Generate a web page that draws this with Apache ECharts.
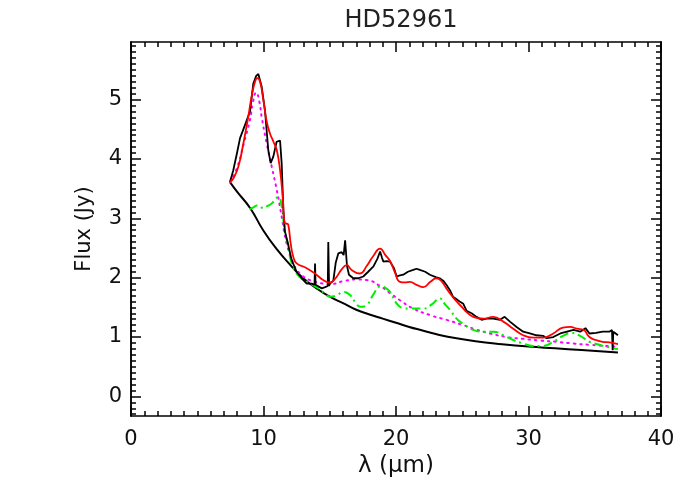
<!DOCTYPE html>
<html>
<head>
<meta charset="utf-8">
<script src="https://cdn.jsdelivr.net/npm/echarts@6/dist/echarts.min.js"></script>
<style>
  body { margin: 0; background: #fff; }
  #chart { width: 700px; height: 500px; }
</style>
</head>
<body>
<div id="chart"></div>
<script>
// observed spectrum [wavelength (um), flux (Jy)]
const observed = [
  [7.47, 3.61], [7.72, 3.81], [8.0, 4.10], [8.23, 4.35], [8.6, 4.57], [8.98, 4.80],
  [9.23, 5.27], [9.45, 5.40], [9.61, 5.43], [9.86, 5.22], [10.11, 4.82], [10.36, 4.15],
  [10.54, 3.93], [10.74, 4.04], [10.99, 4.29], [11.25, 4.31], [11.37, 3.93], [11.5, 3.14],
  [11.62, 2.78], [11.87, 2.55], [12.12, 2.30], [12.5, 2.10], [12.88, 1.99], [13.26, 1.90],
  [13.64, 1.90], [13.85, 1.88], [13.89, 2.24], [13.93, 1.88], [14.0, 1.87], [14.4, 1.82],
  [14.65, 1.84], [14.85, 1.86], [14.89, 2.60], [14.95, 1.86], [15.02, 1.90], [15.27, 1.95],
  [15.45, 2.25], [15.65, 2.41], [15.9, 2.43], [16.05, 2.38], [16.16, 2.63], [16.3, 2.20],
  [16.45, 2.05], [16.78, 1.99], [17.15, 1.99], [17.53, 2.02], [17.9, 2.10], [18.3, 2.19],
  [18.6, 2.32], [18.8, 2.44], [18.95, 2.33], [19.05, 2.27], [19.3, 2.28], [19.55, 2.27],
  [19.85, 2.16], [20.05, 2.02], [20.3, 2.04], [20.55, 2.05], [20.9, 2.10], [21.3, 2.13],
  [21.55, 2.15], [21.8, 2.13], [22.2, 2.10], [22.56, 2.05], [23.0, 2.01], [23.3, 1.99],
  [23.56, 1.95], [23.8, 1.88], [24.07, 1.79], [24.3, 1.68], [24.55, 1.64], [24.8, 1.60],
  [25.08, 1.56], [25.33, 1.44], [25.7, 1.40], [26.08, 1.34], [26.46, 1.29], [26.84, 1.31],
  [27.34, 1.31], [27.85, 1.29], [28.2, 1.34], [28.6, 1.26], [29.1, 1.17], [29.6, 1.09],
  [30.1, 1.06], [30.6, 1.03], [31.1, 1.02], [31.37, 0.98], [31.87, 1.00], [32.4, 1.06],
  [32.9, 1.09], [33.4, 1.12], [33.9, 1.09], [34.3, 1.15], [34.6, 1.06], [35.1, 1.07],
  [35.6, 1.09], [36.1, 1.09], [36.3, 1.12], [36.35, 0.78], [36.4, 1.09], [36.5, 1.09],
  [36.75, 1.03]
];

// total model fit
const model = [
  [7.47, 3.61], [7.72, 3.67], [8.1, 3.87], [8.48, 4.26], [8.85, 4.71], [9.1, 5.05],
  [9.36, 5.30], [9.53, 5.36], [9.74, 5.30], [9.99, 4.99], [10.24, 4.63], [10.49, 4.43],
  [10.75, 4.29], [11.0, 4.15], [11.25, 3.81], [11.45, 3.36], [11.6, 2.92], [11.75, 2.91],
  [11.87, 2.89], [12.05, 2.58], [12.25, 2.35], [12.5, 2.24], [13.26, 2.16], [14.0, 2.05],
  [14.5, 1.96], [15.02, 1.92], [15.4, 1.98], [15.9, 2.14], [16.28, 2.21], [16.65, 2.13],
  [17.28, 2.07], [17.8, 2.20], [18.3, 2.37], [18.8, 2.49], [19.2, 2.38], [19.55, 2.28],
  [19.9, 2.10], [20.3, 1.93], [20.7, 1.92], [21.05, 1.93], [21.55, 1.88], [22.06, 1.84],
  [22.6, 1.93], [23.06, 1.99], [23.4, 1.95], [23.8, 1.82], [24.2, 1.70], [24.57, 1.60],
  [25.0, 1.50], [25.33, 1.42], [25.83, 1.34], [26.6, 1.31], [27.34, 1.34], [28.1, 1.26],
  [28.85, 1.14], [29.6, 1.03], [30.35, 0.99], [31.1, 0.99], [31.87, 1.06], [32.6, 1.16],
  [33.15, 1.17], [33.65, 1.14], [34.15, 1.12], [34.6, 1.00], [35.1, 0.95], [35.6, 0.92],
  [36.1, 0.91], [36.75, 0.88]
];

// amorphous component (dotted)
const amorphous = [
  [7.47, 3.61], [8.0, 3.85], [8.5, 4.25], [8.98, 4.66], [9.2, 4.95], [9.45, 5.12],
  [9.7, 4.95], [9.86, 4.71], [10.24, 4.26], [10.62, 3.87], [11.0, 3.48], [11.37, 3.03],
  [11.74, 2.58], [12.25, 2.24], [12.5, 2.14], [13.0, 2.02], [13.76, 1.94], [14.5, 1.90],
  [15.02, 1.89], [16.0, 1.94], [17.0, 1.97], [17.8, 1.96], [18.8, 1.86], [19.55, 1.74],
  [20.3, 1.62], [21.3, 1.48], [22.56, 1.37], [23.8, 1.29], [25.08, 1.20], [26.0, 1.13],
  [27.1, 1.06], [28.35, 1.00], [29.6, 0.97], [30.9, 0.94], [32.1, 0.92], [33.4, 0.89],
  [34.6, 0.87], [35.85, 0.85], [36.75, 0.84]
];

// crystalline component (dash-dot)
const crystalline = [
  [8.95, 3.15], [9.2, 3.18], [9.6, 3.22], [10.0, 3.17], [10.24, 3.20], [10.62, 3.25],
  [11.12, 3.36], [11.37, 3.20], [11.62, 2.75], [11.87, 2.55], [12.0, 2.35], [12.5, 2.07],
  [13.26, 1.93], [14.0, 1.84], [14.6, 1.74], [15.02, 1.68], [15.5, 1.70], [16.03, 1.76],
  [16.53, 1.71], [17.0, 1.56], [17.3, 1.51], [17.78, 1.54], [18.3, 1.72], [18.8, 1.85],
  [19.2, 1.83], [19.55, 1.76], [20.0, 1.58], [20.5, 1.49], [21.05, 1.48], [22.06, 1.48],
  [22.7, 1.55], [23.3, 1.65], [23.7, 1.55], [24.07, 1.46], [24.57, 1.31], [25.08, 1.22],
  [25.83, 1.12], [26.6, 1.09], [27.34, 1.09], [28.1, 1.03], [28.85, 0.95], [29.6, 0.89],
  [30.35, 0.85], [31.1, 0.85], [31.87, 0.92], [32.6, 1.02], [33.27, 1.07], [33.9, 1.02],
  [34.6, 0.92], [35.35, 0.87], [36.0, 0.83], [36.75, 0.80]
];

// continuum
const continuum = [
  [7.47, 3.61], [8.0, 3.45], [9.0, 3.17], [10.0, 2.79], [11.0, 2.48], [12.0, 2.22],
  [13.0, 1.99], [14.0, 1.82], [15.0, 1.68], [16.0, 1.57], [17.0, 1.46], [18.0, 1.38],
  [19.0, 1.31], [20.0, 1.24], [21.0, 1.17], [22.0, 1.11], [23.0, 1.05], [24.0, 1.00],
  [26.0, 0.93], [28.0, 0.88], [30.0, 0.84], [32.0, 0.81], [34.0, 0.78], [36.75, 0.74]
];

const yMajor = [0, 1, 2, 3, 4, 5];
const yMin = -0.33;
const yMax = 5.97;

// minor ticks every 0.1
const yMinor = [];
for (let i = -3; i <= 59; i++) {
  if (i % 10 !== 0) yMinor.push(+(i / 10).toFixed(1));
}

const font = "DejaVu Sans";
const ink = "#111";
const chart = echarts.init(document.getElementById("chart"));

function xAx(pos, labels) {
  return {
    type: "value",
    position: pos,
    min: 0,
    max: 40,
    interval: 10,
    axisLine: { onZero: false, lineStyle: { color: "#000", width: 1.5 } },
    axisTick: { inside: true, length: 10, lineStyle: { color: "#000", width: 1.5 } },
    minorTick: { show: true, splitNumber: 10, length: 5, lineStyle: { color: "#000", width: 1.5 } },
    splitLine: { show: false },
    axisLabel: { show: labels, fontSize: 21, margin: 13, color: ink, fontFamily: font },
    name: labels ? "λ (μm)" : "",
    nameLocation: "middle",
    nameGap: 39,
    nameTextStyle: { fontSize: 23, color: ink, fontFamily: font },
  };
}

function yAx(pos, ticks, len, labels) {
  return {
    type: "value",
    position: pos,
    min: yMin,
    max: yMax,
    axisLine: { show: true, onZero: false, lineStyle: { color: "#000", width: 1.5 } },
    axisTick: { inside: true, length: len, customValues: ticks, lineStyle: { color: "#000", width: 1.5 } },
    splitLine: { show: false },
    axisLabel: { show: labels, customValues: yMajor, fontSize: 21, margin: 9, color: ink, fontFamily: font },
    name: labels ? "Flux (Jy)" : "",
    nameLocation: "middle",
    nameGap: 36,
    nameTextStyle: { fontSize: 21, color: ink, fontFamily: font },
  };
}

const option = {
  animation: false,
  backgroundColor: "#fff",
  title: {
    text: "HD52961",
    left: 396,
    top: 4,
    textAlign: "center",
    textStyle: { fontSize: 24, fontWeight: "normal", color: "#222", fontFamily: font },
  },
  grid: { left: 131, top: 42, width: 530, height: 374 },
  xAxis: [xAx("bottom", true), xAx("top", false)],
  yAxis: [
    yAx("left", yMajor, 10, true),
    yAx("right", yMajor, 10, false),
    yAx("left", yMinor, 5, false),
    yAx("right", yMinor, 5, false),
  ],
  series: [
    {
      type: "line",
      data: continuum,
      smooth: true,
      symbol: "none",
      lineStyle: { color: "#000", width: 2 },
    },
    {
      type: "line",
      data: amorphous,
      smooth: true,
      symbol: "none",
      lineStyle: { color: "#ff00ff", width: 2, type: [1.5, 5], cap: "round" },
    },
    {
      type: "line",
      data: crystalline,
      smooth: true,
      symbol: "none",
      lineStyle: { color: "#00ee00", width: 2, type: [9, 4, 2, 4] },
    },
    {
      type: "line",
      data: observed,
      symbol: "none",
      lineStyle: { color: "#000", width: 1.8 },
    },
    {
      type: "line",
      data: model,
      smooth: true,
      symbol: "none",
      lineStyle: { color: "#ff0000", width: 1.8 },
    },
  ],
};

chart.setOption(option);
</script>
</body>
</html>
